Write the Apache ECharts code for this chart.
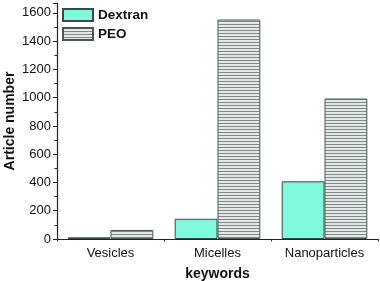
<!DOCTYPE html>
<html><head><meta charset="utf-8">
<script src="https://cdn.jsdelivr.net/npm/echarts@6/dist/echarts.min.js"></script>
<style>html,body{margin:0;padding:0;background:#fff}#c{width:380px;height:281px}</style>
</head><body><div id="c"></div>
<script>
var categories = ['Vesicles', 'Micelles', 'Nanoparticles'];
var dextran = [12, 143, 408];
var peo = [64, 1553, 994];
var seriesNames = ['Dextran', 'PEO'];

var pc = document.createElement('canvas');
pc.width = 4; pc.height = 3;
var ctx = pc.getContext('2d');
ctx.fillStyle = '#e4e8e8'; ctx.fillRect(0,0,4,3);
ctx.fillStyle = '#7d8a8a'; ctx.fillRect(0,0,4,1);
var stripe = {image: pc, repeat: 'repeat'};

var chart = echarts.init(document.getElementById('c'), null, {renderer:'canvas'});
var font = 'Liberation Sans, Arial, sans-serif';
chart.setOption({
  animation: false,
  textStyle: {fontFamily: font},
  grid: {left: 57, right: 2, top: 3, bottom: 42, containLabel: false, outerBoundsMode: 'none'},
  legend: {
    left: 62, top: 8, padding: 0, orient: 'vertical', itemWidth: 30, itemHeight: 12, itemGap: 5,
    icon: 'rect',
    textStyle: {fontSize: 13.5, fontWeight: 'bold', color: '#111', fontFamily: font},
    data: seriesNames
  },
  xAxis: [{
    type: 'category', data: categories,
    axisLine: {lineStyle: {color: '#222', width: 1.2}},
    axisTick: {alignWithLabel: true, length: 4, lineStyle: {color: '#222'}},
    axisLabel: {fontSize: 13, color: '#111', margin: 8},
    name: 'keywords', nameLocation: 'middle', nameGap: 28, nameMoveOverlap: false,
    nameTextStyle: {fontSize: 14, fontWeight: 'bold', color: '#111'}
  }, {
    type: 'category', data: categories, position: 'bottom',
    axisLine: {show: false},
    axisTick: {show: true, length: 2.5, lineStyle: {color: '#222'}},
    axisLabel: {show: false}
  }],
  yAxis: {
    type: 'value', min: 0, max: 1670, interval: 200,
    axisLine: {show: true, lineStyle: {color: '#222', width: 1.2}},
    axisTick: {show: true, length: 4, lineStyle: {color: '#222'}},
    minorTick: {show: true, splitNumber: 2, length: 2.5, lineStyle: {color: '#222'}},
    splitLine: {show: false},
    axisLabel: {fontSize: 13, color: '#111', margin: 6, showMaxLabel: false,
      formatter: function (v) { return String(v); }},
    name: 'Article number', nameLocation: 'middle', nameGap: 40, nameRotate: 90,
    nameMoveOverlap: false,
    nameTextStyle: {fontSize: 14, fontWeight: 'bold', color: '#111'}
  },
  series: [{
    name: 'Dextran', type: 'bar', data: dextran, barGap: '0%', barCategoryGap: '20%',
    itemStyle: {color: '#7ff8dc', borderColor: '#3a4a46', borderWidth: 1}
  }, {
    name: 'PEO', type: 'bar', data: peo,
    itemStyle: {color: stripe, borderColor: '#4a5656', borderWidth: 1}
  }]
});
</script></body></html>
